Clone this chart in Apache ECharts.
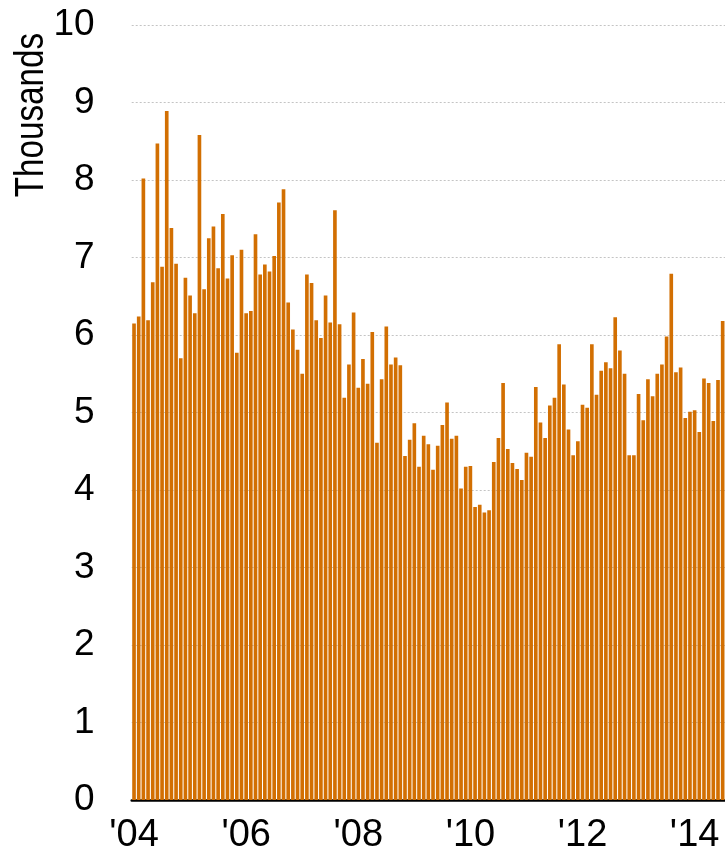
<!DOCTYPE html>
<html>
<head>
<meta charset="utf-8">
<script src="https://cdn.jsdelivr.net/npm/echarts@6/dist/echarts.min.js"></script>
<style>
  html, body { margin: 0; padding: 0; background: #fff; overflow: hidden; }
  #chart { width: 725px; height: 856px; }
</style>
</head>
<body>
<div id="chart"></div>
<script>
// monthly values, Jan 2004 onwards (thousands)
const values2004_2005 = [6.15, 6.24, 8.02, 6.19, 6.68, 8.47, 6.88, 8.89, 7.38, 6.92, 5.70, 6.74,
  6.51, 6.28, 8.58, 6.59, 7.25, 7.40, 6.86, 7.56, 6.73, 7.03, 5.77, 7.10];
const values2006_2007 = [6.28, 6.31, 7.30, 6.78, 6.91, 6.82, 7.02, 7.71, 7.88, 6.42, 6.07, 5.81,
  5.50, 6.78, 6.67, 6.19, 5.96, 6.51, 6.16, 7.61, 6.14, 5.19, 5.62, 6.29];
const values2008_2009 = [5.32, 5.69, 5.37, 6.04, 4.61, 5.43, 6.11, 5.62, 5.71, 5.61, 4.44, 4.65,
  4.86, 4.30, 4.70, 4.59, 4.26, 4.57, 4.84, 5.13, 4.66, 4.70, 4.02, 4.30];
const values2010_2011 = [4.31, 3.78, 3.81, 3.71, 3.74, 4.36, 4.67, 5.38, 4.53, 4.35, 4.27, 4.13,
  4.48, 4.43, 5.33, 4.87, 4.67, 5.09, 5.19, 5.88, 5.36, 4.78, 4.45, 4.63];
const values2012_2013 = [5.10, 5.06, 5.88, 5.23, 5.54, 5.65, 5.57, 6.23, 5.80, 5.50, 4.45, 4.45,
  5.24, 4.90, 5.43, 5.21, 5.50, 5.62, 5.98, 6.79, 5.52, 5.58, 4.93, 5.01];
const values2014 = [5.03, 4.75, 5.44, 5.38, 4.89, 5.42, 6.18];

const startYear = 2004;
const tickLabels = ["'04", "'06", "'08", "'10", "'12", "'14"];
const yTicks = [0, 1, 2, 3, 4, 5, 6, 7, 8, 9, 10];

const values = [].concat(values2004_2005, values2006_2007, values2008_2009,
  values2010_2011, values2012_2013, values2014);

const months = [];
for (let i = 0; i < values.length; i++) {
  const y = startYear + Math.floor(i / 12);
  const m = (i % 12) + 1;
  months.push(y + '-' + (m < 10 ? '0' + m : m));
}

const chart = echarts.init(document.getElementById('chart'), null, { renderer: 'canvas' });

const font = '"Liberation Sans Narrow", "Liberation Sans", Arial, sans-serif';

chart.setOption({
  animation: false,
  grid: { left: 131.7, right: -3, top: 25, bottom: 56 },
  graphic: [{
    type: 'text',
    left: 12,
    top: 33,
    rotation: Math.PI / 2,
    scaleX: 0.83,
    style: {
      text: 'Thousands',
      font: '40px ' + font,
      fill: '#000'
    }
  }],
  xAxis: {
    type: 'category',
    data: months,
    boundaryGap: true,
    axisLine: { show: true, lineStyle: { color: '#000', width: 2.5 } },
    axisTick: { show: false },
    axisLabel: {
      interval: function (i) { return i % 24 === 0; },
      formatter: function (v, i) { return tickLabels[i / 24] || ''; },
      fontFamily: font,
      fontSize: 38,
      color: '#000',
      margin: 17
    },
    splitLine: { show: false }
  },
  yAxis: {
    type: 'value',
    min: yTicks[0],
    max: yTicks[yTicks.length - 1],
    interval: 1,
    axisLine: { show: false },
    axisTick: { show: false },
    axisLabel: {
      fontFamily: font,
      fontSize: 37,
      color: '#000',
      margin: 37
    },
    splitLine: {
      show: true,
      lineStyle: { color: '#c4c4c4', type: [2, 2], width: 1 }
    }
  },
  series: [{
    type: 'bar',
    data: values,
    barCategoryGap: '22%',
    itemStyle: { color: '#D26F02' },
    z: 2
  }]
});
</script>
</body>
</html>
